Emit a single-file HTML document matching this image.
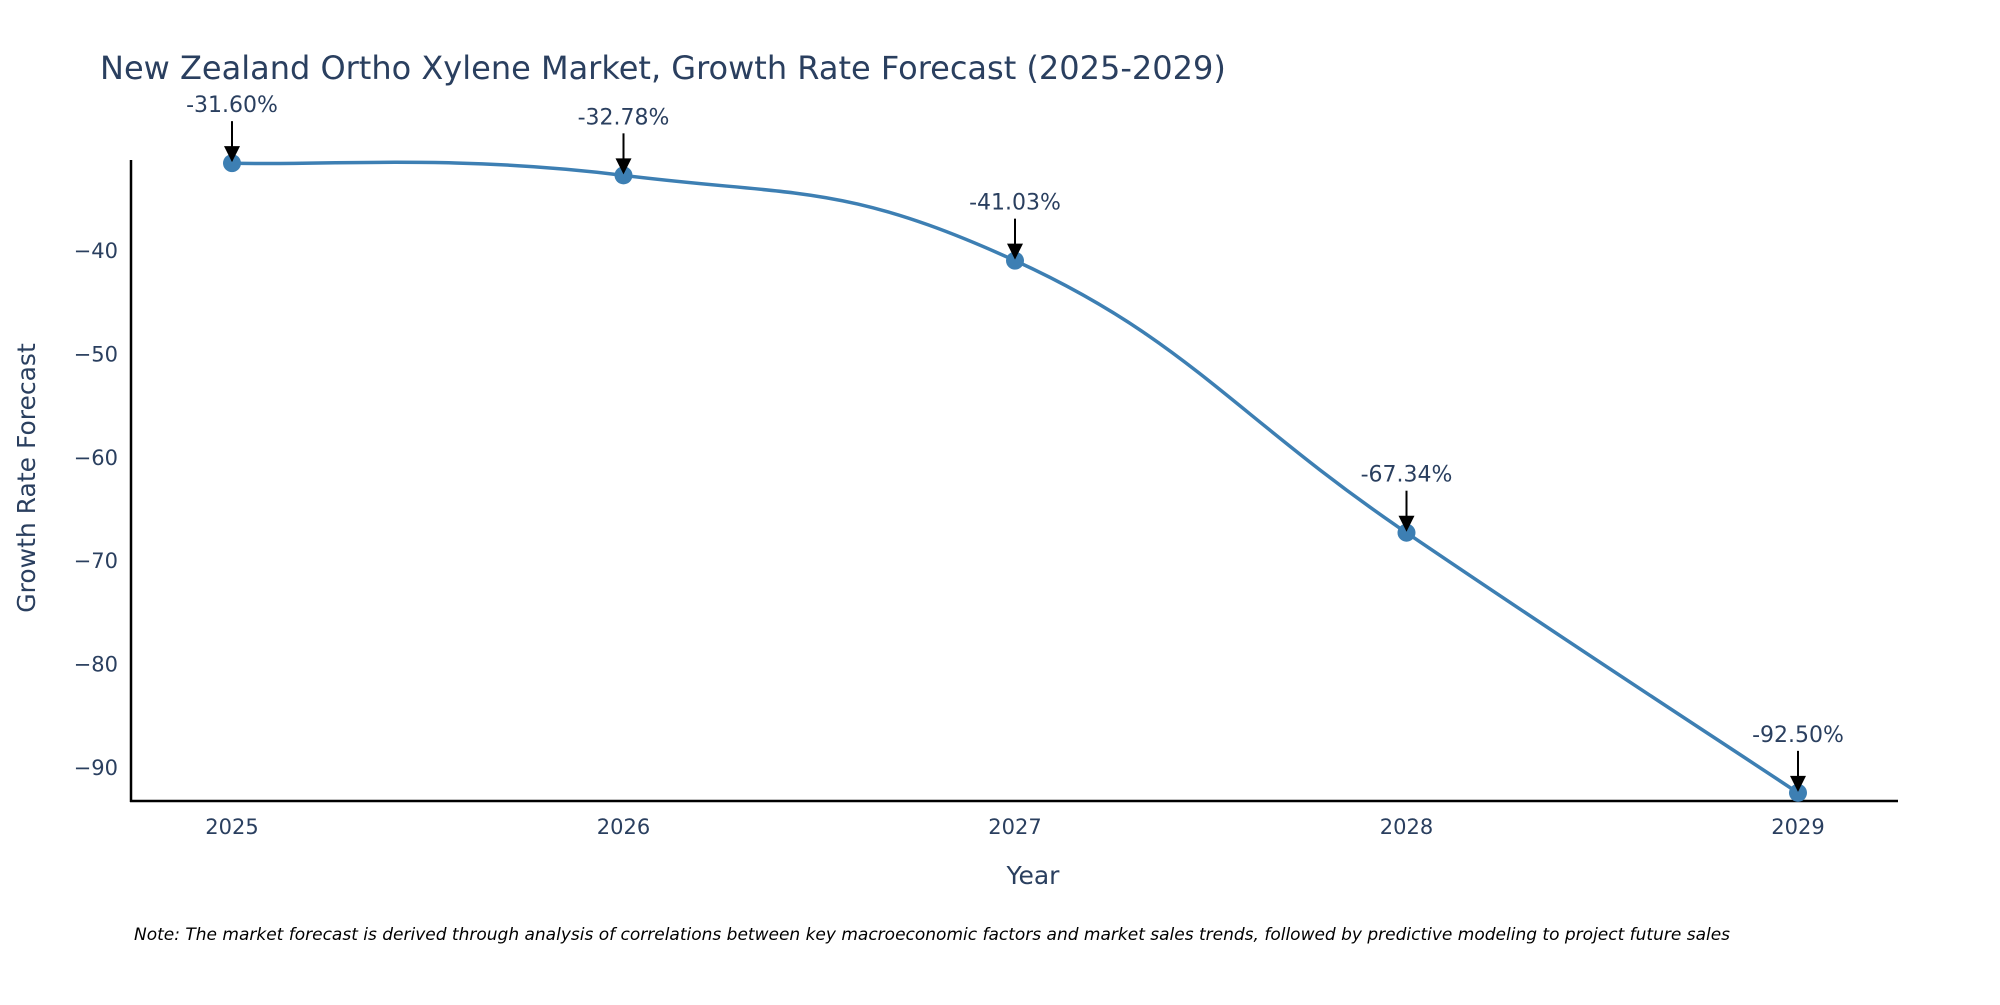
<!DOCTYPE html>
<html><head><meta charset="utf-8"><style>
body{margin:0;background:#fff;}
svg text{font-family:"DejaVu Sans","Liberation Sans",sans-serif;}
</style></head><body>
<svg id="chart" width="2000" height="1000" viewBox="0 0 2000 1000" xmlns="http://www.w3.org/2000/svg">
<rect width="2000" height="1000" fill="#fff"/>
<text x="100" y="79" font-size="32" fill="#2a3f5f">New Zealand Ortho Xylene Market, Growth Rate Forecast (2025-2029)</text>
<g id="yticks"></g><g id="xticks"></g>
<line x1="131" y1="160" x2="131" y2="802" stroke="#000" stroke-width="2.5"/>
<line x1="130" y1="801" x2="1898" y2="801" stroke="#000" stroke-width="2.5"/>
<path id="line" fill="none" stroke="#3d7fb3" stroke-width="3.5"/>
<g id="pts"></g><g id="ann"></g>
<text x="1033" y="884" font-size="25" fill="#2a3f5f" text-anchor="middle">Year</text>
<text transform="translate(35,478) rotate(-90)" font-size="25" fill="#2a3f5f" text-anchor="middle">Growth Rate Forecast</text>
<text x="134" y="940" font-size="17" font-style="italic" fill="#000">Note: The market forecast is derived through analysis of correlations between key macroeconomic factors and market sales trends, followed by predictive modeling to project future sales</text>
</svg>
<script>
const years=[2025,2026,2027,2028,2029];
const values=[-31.60,-32.78,-41.03,-67.34,-92.50];
const labels=["-31.60%","-32.78%","-41.03%","-67.34%","-92.50%"];
const yTicks=[-40,-50,-60,-70,-80,-90];
const NS="http://www.w3.org/2000/svg";
function X(v){return 232+(v-2025)*391.5;}
function Y(v){return 250+(-40-v)*10.34;}
function mk(t,a,p){const e=document.createElementNS(NS,t);for(const k in a)e.setAttribute(k,a[k]);p.appendChild(e);return e;}
const yt=document.getElementById('yticks');
yTicks.forEach(t=>{const e=mk('text',{x:118,y:Y(t)+8,'font-size':21,fill:'#2a3f5f','text-anchor':'end'},yt);e.textContent='\u2212'+Math.abs(t);

});
const xt=document.getElementById('xticks');
years.forEach(t=>{const e=mk('text',{x:X(t),y:834,'font-size':21,fill:'#2a3f5f','text-anchor':'middle'},xt);e.textContent=t;

});
const P=years.map((y,i)=>[X(y),Y(values[i])]);
let d='M'+P[0][0]+','+P[0][1];
const s=0.22;
for(let i=0;i<P.length-1;i++){const p0=P[Math.max(0,i-1)],p1=P[i],p2=P[i+1],p3=P[Math.min(P.length-1,i+2)];
d+=' C'+(p1[0]+(p2[0]-p0[0])*s)+','+(p1[1]+(p2[1]-p0[1])*s)+' '+(p2[0]-(p3[0]-p1[0])*s)+','+(p2[1]-(p3[1]-p1[1])*s)+' '+p2[0]+','+p2[1];}
document.getElementById('line').setAttribute('d',d);
const pg=document.getElementById('pts'),ag=document.getElementById('ann');
P.forEach((p,i)=>{const c=mk('circle',{cx:p[0],cy:p[1],r:9,fill:'#3d7fb3'},pg);


const l=mk('line',{x1:p[0],y1:p[1]-42,x2:p[0],y2:p[1]-14,stroke:'#000','stroke-width':2},ag);


const h=mk('polygon',{points:(p[0]-8)+','+(p[1]-17)+' '+(p[0]+8)+','+(p[1]-17)+' '+p[0]+','+(p[1]-1),fill:'#000'},ag);


const t=mk('text',{x:p[0],y:p[1]-51,'font-size':22,fill:'#2a3f5f','text-anchor':'middle'},ag);t.textContent=labels[i];

});
</script>
</body></html>
